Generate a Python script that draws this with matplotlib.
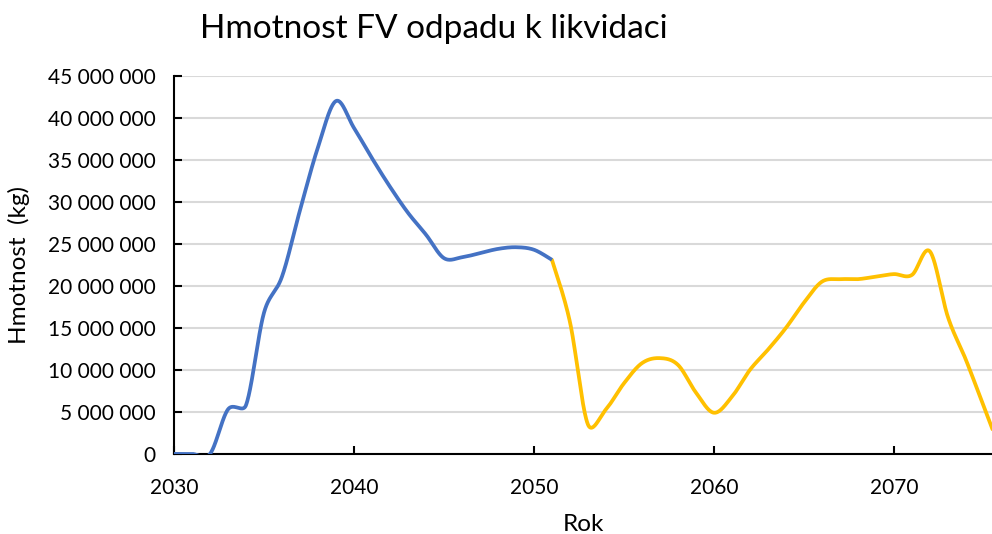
import numpy as np
import matplotlib
matplotlib.use("Agg")
import matplotlib.pyplot as plt
from matplotlib.ticker import FuncFormatter, MultipleLocator

plt.rcParams['font.family'] = ['Lato', 'DejaVu Sans']

# blue part: 2030-2051, yellow part: 2051-2076
years_a = list(range(2030, 2052))
mass_a = [0, 0, 0, 5.3e6, 5.8e6, 16.8e6, 21.1e6, 29.0e6, 36.5e6, 42.0e6, 38.8e6,
          35.2e6, 31.8e6, 28.7e6, 26.1e6, 23.3e6, 23.4e6, 23.9e6, 24.4e6, 24.6e6,
          24.3e6, 23.1e6]
years_b = list(range(2051, 2077))
mass_b = [23.1e6, 15.7e6, 3.5e6, 5.3e6, 8.4e6, 10.8e6, 11.4e6, 10.6e6, 7.3e6, 4.9e6,
          6.8e6, 10.0e6, 12.4e6, 15.0e6, 18.0e6, 20.5e6, 20.8e6, 20.8e6, 21.1e6,
          21.4e6, 21.3e6, 24.1e6, 16.3e6, 11.2e6, 5.6e6, 0]


def smooth(x, y, n=40, sx=18.0, sy=8.4e-6):
    # Bezier smoothing like Excel: tangent (P2-P0)/6, control length capped
    # at half of the segment length (measured in screen units)
    x = np.asarray(x, float)
    y = np.asarray(y, float)
    px = np.concatenate([[x[0]], x, [x[-1]]])
    py = np.concatenate([[y[0]], y, [y[-1]]])

    def dist(i, j):
        return np.hypot((px[j] - px[i]) * sx, (py[j] - py[i]) * sy)

    xs, ys = [], []
    t = np.linspace(0, 1, n, endpoint=False)
    for i in range(1, len(px) - 2):
        d12 = dist(i, i+1)
        d02, d13 = dist(i-1, i+1), dist(i, i+2)
        f1 = 1 / 6 if d02 / 6 < d12 / 2 else d12 / 2 / d02
        f2 = 1 / 6 if d13 / 6 < d12 / 2 else d12 / 2 / d13
        c1x = px[i] + (px[i+1] - px[i-1]) * f1
        c1y = py[i] + (py[i+1] - py[i-1]) * f1
        c2x = px[i+1] - (px[i+2] - px[i]) * f2
        c2y = py[i+1] - (py[i+2] - py[i]) * f2
        b0, b1, b2, b3 = (1-t)**3, 3*(1-t)**2*t, 3*(1-t)*t**2, t**3
        xs.append(b0*px[i] + b1*c1x + b2*c2x + b3*px[i+1])
        ys.append(b0*py[i] + b1*c1y + b2*c2y + b3*py[i+1])
    xs.append([x[-1]])
    ys.append([y[-1]])
    return np.concatenate(xs), np.concatenate(ys)


fig = plt.figure(figsize=(9.92, 5.34), dpi=100)
ax = fig.add_axes([0.1754, 0.15, 0.8246, 0.708])

xb, yb = smooth(years_b, mass_b)
ax.plot(xb, yb, color='#FFC000', lw=2.7, solid_capstyle='round', zorder=3)
xa, ya = smooth(years_a, mass_a)
ax.plot(xa, ya, color='#4472C4', lw=2.7, solid_capstyle='butt', zorder=4)

ax.set_xlim(2030, 2075.45)
ax.set_ylim(0, 45e6)
ax.xaxis.set_major_locator(MultipleLocator(10))
ax.yaxis.set_major_locator(MultipleLocator(5e6))
ax.yaxis.set_major_formatter(FuncFormatter(lambda v, p: f"{int(v):,}".replace(",", " ")))
ax.grid(axis='y', color='#d9d9d9', lw=1.5)
ax.set_axisbelow(True)
for s in ['top', 'right']:
    ax.spines[s].set_visible(False)
for s in ['left', 'bottom']:
    ax.spines[s].set_linewidth(1.5)
ax.tick_params(direction='in', length=6, width=1.5, labelsize=15)
ax.tick_params(axis='x', pad=17)
ax.tick_params(axis='y', pad=13)

ax.set_xlabel("Rok", fontsize=17.5)
ax.xaxis.set_label_coords(0.5, -0.159)
ax.set_ylabel("Hmotnost  (kg)", fontsize=17.5)
ax.yaxis.set_label_coords(-0.176, 0.5)
fig.text(0.4375, 0.945, "Hmotnost FV odpadu k likvidaci", fontsize=24, ha='center', va='center')

fig.savefig("out.png", dpi=100)
